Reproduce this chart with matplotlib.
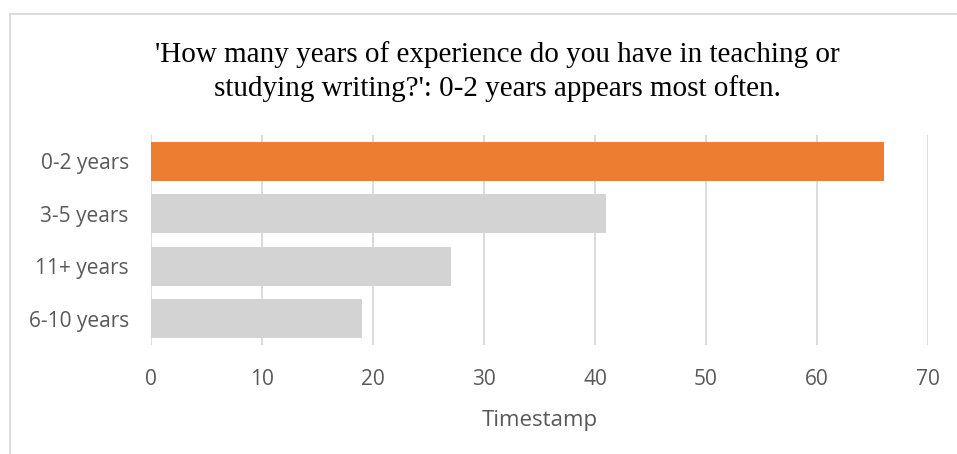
import matplotlib.pyplot as plt
from matplotlib.lines import Line2D

categories = ['0-2 years', '3-5 years', '11+ years', '6-10 years']
counts = [66, 41, 27, 19]
bar_colors = ['#ED7D31', '#D3D3D3', '#D3D3D3', '#D3D3D3']
xticks = [0, 10, 20, 30, 40, 50, 60, 70]

title = ("'How many years of experience do you have in teaching or\n"
         "studying writing?': 0-2 years appears most often.")

fig = plt.figure(figsize=(9.57, 4.54), dpi=100)
ax = fig.add_axes([0.1578, 0.2401, 0.9697 - 0.1578, 0.7026 - 0.2401])

y = list(range(len(categories)))
ax.barh(y, counts, height=0.74, color=bar_colors, zorder=2)
ax.set_ylim(len(categories) - 0.5, -0.5)
ax.set_xlim(0, 70)
ax.set_xticks(xticks)
ax.set_yticks(y)
ax.set_yticklabels(categories)

for s in ax.spines.values():
    s.set_visible(False)
ax.grid(axis='x', color='#D9D9D9', linewidth=1.3, zorder=0)
ax.tick_params(axis='both', length=0, labelsize=15, labelcolor='#595959')
ax.tick_params(axis='x', pad=17)
ax.tick_params(axis='y', pad=16)
for lab in ax.get_xticklabels() + ax.get_yticklabels():
    lab.set_family('Open Sans')

ax.set_xlabel('Timestamp', family='Open Sans', fontsize=16, color='#595959', labelpad=15)

fig.text(0.5 + 0.02, 0.843, title, ha='center', va='center', family='Liberation Serif',
         fontsize=21, linespacing=1.32, color='black')

# chart area frame (top and left edges visible)
fig.add_artist(Line2D([10 / 957, 10 / 957], [0, 1 - 14 / 454], transform=fig.transFigure,
                      color='#D9D9D9', linewidth=1.3))
fig.add_artist(Line2D([10 / 957, 1], [1 - 14 / 454, 1 - 14 / 454], transform=fig.transFigure,
                      color='#D9D9D9', linewidth=1.3))

fig.savefig('out.png', dpi=100)
